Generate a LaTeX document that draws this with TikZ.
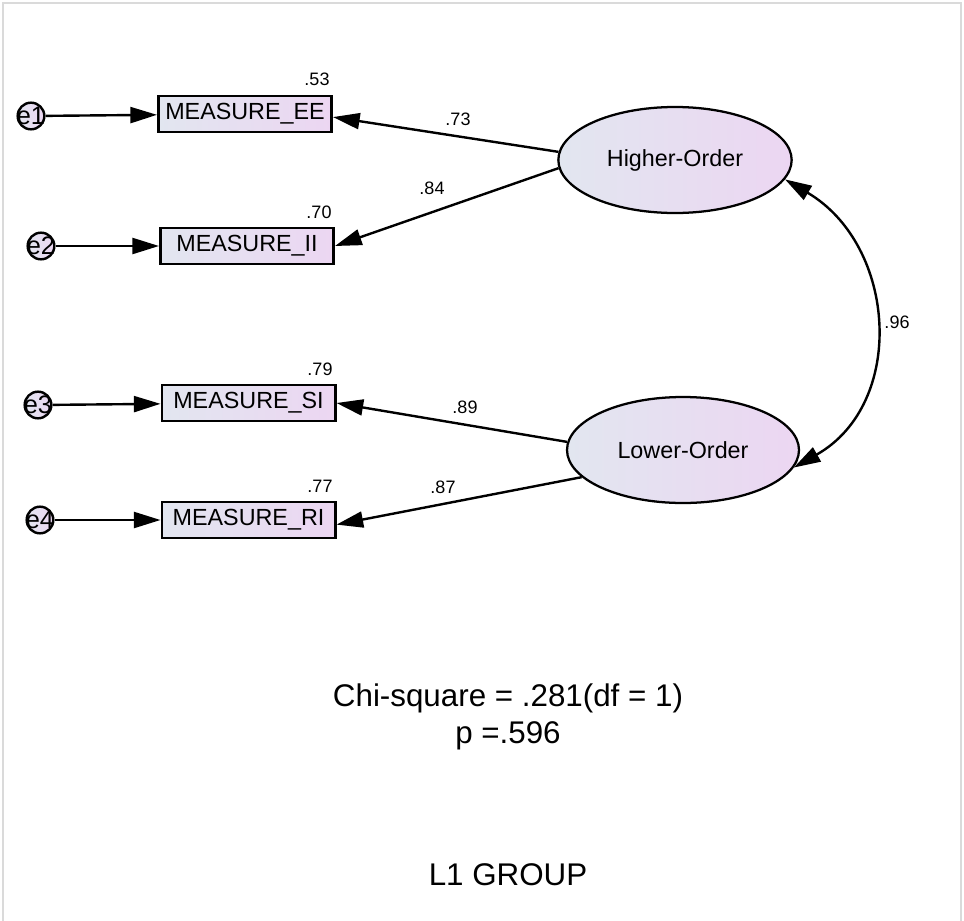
\documentclass[tikz,border=0pt]{standalone}
\usepackage{fontspec}
\setmainfont{Liberation Sans}
\usetikzlibrary{arrows.meta,shapes.geometric}
\definecolor{fillL}{RGB}{226,230,240}
\definecolor{fillR}{RGB}{236,214,242}
\definecolor{framegray}{RGB}{218,218,218}

\begin{document}
\begin{tikzpicture}[x=0.75pt,y=-0.75pt,
  tip/.tip={Triangle[length=20pt,width=12pt]},
  load/.style={line width=1.8pt,-tip},
  cov/.style={line width=1.8pt,tip-tip},
  observed/.style={draw,line width=2pt,left color=fillL,right color=fillR,
    minimum width=130pt,minimum height=27pt,inner sep=0pt,
    font=\fontsize{17.5}{20}\selectfont},
  latent/.style={ellipse,draw,line width=1.7pt,left color=fillL,right color=fillR,
    minimum width=175pt,minimum height=79.5pt,inner sep=0pt,
    font=\fontsize{17.5}{20}\selectfont},
  err/.style={circle,draw,line width=1.8pt,left color=fillL,right color=fillR,
    minimum size=20pt,inner sep=0pt,font=\fontsize{19}{20}\selectfont},
  coef/.style={font=\fontsize{13.5}{15}\selectfont},
  stat/.style={font=\fontsize{23.5}{27.5}\selectfont,align=center}
]
\useasboundingbox (0,0) rectangle (964,921);

% outer frame
\draw[framegray,line width=1.5pt] (3,921) -- (3,3) -- (961,3) -- (961,921);

% observed indicators
\node[observed] (ee) at (245,114) {MEASURE\_EE};
\node[observed] (ii) at (247,246) {MEASURE\_II};
\node[observed] (si) at (248.5,403) {MEASURE\_SI};
\node[observed] (ri) at (248.5,520) {MEASURE\_RI};

% error terms
\node[err] (e1) at (31,116) {\makebox[0pt]{e1}};
\node[err] (e2) at (41,246) {\makebox[0pt]{e2}};
\node[err] (e3) at (38,405) {\makebox[0pt]{e3}};
\node[err] (e4) at (40,520) {\makebox[0pt]{e4}};

% latent factors
\node[latent] (ho) at (675,160) {Higher-Order};
\node[latent,minimum width=174pt] (lo) at (683,450) {Lower-Order};

% error paths
\draw[load] (e1) -- (ee);
\draw[load] (e2) -- (ii);
\draw[load] (e3) -- (si);
\draw[load] (e4) -- (ri);

% factor loadings
\draw[load] (ho.176) -- (ee.-2);
\draw[load] (ho.184) -- (ii.east);
\draw[load] (lo.176) -- (si.east);
\draw[load] (lo.195) -- (ri.-3);

% factor covariance
\draw[cov] (ho.-10) .. controls +(112,66) and +(113,-64) .. (lo.-9);

% squared multiple correlations
\node[coef] (r1) at (317,79) {.53};
\node[coef] (r2) at (319,212) {.70};
\node[coef] (r3) at (320,369) {.79};
\node[coef] (r4) at (320,486) {.77};

% standardized estimates
\node[coef] (l1) at (458,119) {.73};
\node[coef] (l2) at (432,188) {.84};
\node[coef] (l3) at (465,407) {.89};
\node[coef] (l4) at (443,487) {.87};
\node[coef] (c1) at (897,322) {.96};

% fit statistics and group name
\node[stat] (chi) at (508,717) {Chi-square = .281(df = 1)\\p =.596};
\node[stat] (grp) at (508,875) {L1 GROUP};
\end{tikzpicture}
\end{document}
